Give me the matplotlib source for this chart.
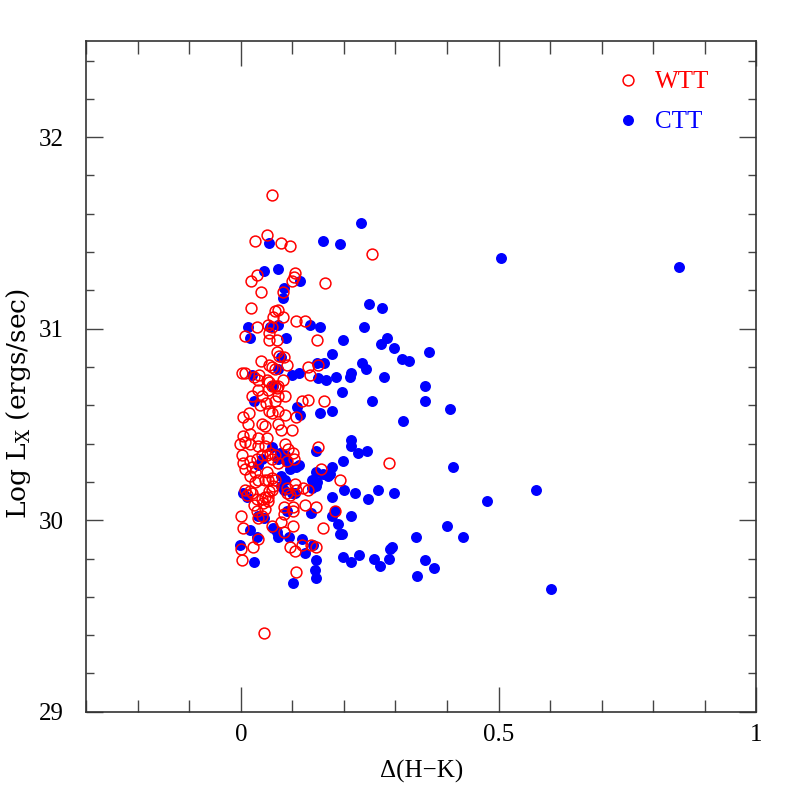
import matplotlib
matplotlib.use("Agg")
import matplotlib.pyplot as plt
from matplotlib.ticker import MultipleLocator
from matplotlib.lines import Line2D

plt.rcParams['font.family'] = ['Liberation Serif', 'DejaVu Serif']
plt.rcParams['mathtext.fontset'] = 'custom'
plt.rcParams['mathtext.rm'] = 'DejaVu Serif'

# WTT (open red circles): Delta(H-K), log Lx
wtt_x = [0.061, 0.050, 0.028, 0.079, 0.096, 0.254, 0.032, 0.020, 0.105, 0.104,
         0.099, 0.163, 0.082, 0.039, 0.020, 0.073, 0.066, 0.081, 0.063, 0.108,
         0.125, 0.031, 0.052, 0.060, 0.008, 0.054, 0.070, 0.054, 0.147, 0.070,
         0.074, 0.039, 0.054, 0.084, 0.090, 0.149, 0.002, 0.008, 0.026, 0.036,
         0.061, 0.066, 0.130, 0.134, 0.034, 0.050, 0.054, 0.060, 0.066, 0.072,
         0.081, 0.052, 0.070, 0.073, 0.086, 0.034, 0.021, 0.041, 0.038, 0.048,
         0.054, 0.060, 0.066, 0.073, 0.086, 0.131, 0.119, 0.108, 0.162, 0.016,
         0.005, 0.015, 0.041, 0.047, 0.073, 0.099, 0.078, 0.149, 0.155, 0.192,
         0.288, 0.146, 0.183, 0.160, 0.146, 0.005, 0.018, 0.034, 0.050, -0.001,
         0.008, 0.018, 0.033, 0.047, 0.086, 0.092, 0.102, 0.002, 0.005, 0.008,
         0.018, 0.021, 0.031, 0.041, 0.050, 0.057, 0.060, 0.066, 0.073, 0.089,
         0.104, 0.027, 0.018, 0.027, 0.034, 0.047, 0.053, 0.060, 0.066, 0.050,
         0.063, 0.060, 0.054, 0.090, 0.105, 0.108, 0.121, 0.130, 0.096, 0.089,
         0.008, 0.018, 0.012, 0.021, 0.031, 0.041, 0.047, 0.053, 0.026, 0.044,
         0.053, 0.083, 0.102, 0.125, 0.001, 0.031, 0.034, 0.047, 0.041, 0.083,
         0.102, 0.005, 0.060, 0.079, 0.083, 0.102, 0.033, 0.001, 0.024, 0.003,
         0.096, 0.105, 0.118, 0.136, 0.108, 0.046]
wtt_y = [31.70, 31.49, 31.46, 31.45, 31.43, 31.39, 31.28, 31.25, 31.29, 31.27,
         31.25, 31.24, 31.19, 31.19, 31.11, 31.10, 31.09, 31.06, 31.06, 31.04,
         31.04, 31.01, 31.02, 31.01, 30.96, 30.94, 30.94, 30.98, 30.94, 30.88,
         30.86, 30.83, 30.81, 30.85, 30.81, 30.81, 30.77, 30.77, 30.75, 30.76,
         30.80, 30.79, 30.80, 30.76, 30.73, 30.73, 30.72, 30.70, 30.70, 30.70,
         30.73, 30.68, 30.69, 30.65, 30.65, 30.68, 30.65, 30.65, 30.60, 30.61,
         30.57, 30.56, 30.62, 30.57, 30.55, 30.63, 30.62, 30.54, 30.62, 30.56,
         30.54, 30.50, 30.50, 30.49, 30.50, 30.47, 30.47, 30.38, 30.27, 30.21,
         30.30, 30.07, 30.05, 29.96, 29.86, 30.44, 30.45, 30.43, 30.43, 30.40,
         30.41, 30.40, 30.39, 30.39, 30.40, 30.37, 30.35, 30.34, 30.30, 30.27,
         30.31, 30.28, 30.32, 30.34, 30.34, 30.35, 30.32, 30.34, 30.30, 30.31,
         30.32, 30.25, 30.23, 30.20, 30.21, 30.21, 30.21, 30.22, 30.21, 30.25,
         30.18, 30.16, 30.15, 30.17, 30.19, 30.16, 30.17, 30.16, 30.13, 30.14,
         30.16, 30.15, 30.13, 30.14, 30.11, 30.11, 30.12, 30.12, 30.08, 30.09,
         30.10, 30.07, 30.07, 30.08, 30.02, 30.05, 30.01, 30.06, 30.02, 30.03,
         30.05, 29.96, 29.97, 29.99, 29.94, 29.97, 29.90, 29.85, 29.86, 29.79,
         29.86, 29.84, 29.87, 29.87, 29.73, 29.41]

# CTT (filled blue circles)
ctt_x = [0.234, 0.193, 0.504, 0.850, 0.249, 0.273, 0.240, 0.198, 0.284, 0.272,
         0.298, 0.366, 0.176, 0.312, 0.326, 0.235, 0.242, 0.213, 0.212, 0.185,
         0.277, 0.357, 0.196, 0.254, 0.357, 0.405, 0.176, 0.314, 0.214, 0.214,
         0.227, 0.244, 0.198, 0.176, 0.412, 0.173, 0.200, 0.222, 0.267, 0.297,
         0.572, 0.247, 0.477, 0.176, 0.183, 0.176, 0.213, 0.189, 0.193, 0.197,
         0.400, 0.431, 0.339, 0.294, 0.289, 0.198, 0.229, 0.213, 0.259, 0.288,
         0.271, 0.357, 0.375, 0.342, 0.601, 0.160, 0.154, 0.161, 0.150, 0.165,
         0.153, 0.145, 0.160, 0.170, 0.146, 0.146, 0.146, 0.144, 0.146, 0.054,
         0.045, 0.072, 0.114, 0.084, 0.081, 0.135, 0.015, 0.073, 0.057, 0.018,
         0.088, 0.078, 0.021, 0.073, 0.099, 0.112, 0.147, 0.063, 0.026, 0.110,
         0.115, 0.060, 0.076, 0.034, 0.041, 0.073, 0.086, 0.090, 0.096, 0.108,
         0.112, 0.079, 0.086, 0.079, 0.083, 0.099, 0.105, 0.138, 0.147, 0.138,
         0.005, 0.012, 0.034, 0.046, 0.089, 0.136, 0.018, 0.063, 0.070, 0.073,
         0.094, 0.031, -0.001, 0.026, 0.118, 0.125, 0.141, 0.102]
ctt_y = [31.55, 31.44, 31.37, 31.32, 31.13, 31.11, 31.01, 30.94, 30.95, 30.92,
         30.90, 30.88, 30.87, 30.84, 30.83, 30.82, 30.79, 30.77, 30.75, 30.75,
         30.75, 30.70, 30.67, 30.62, 30.62, 30.58, 30.57, 30.52, 30.42, 30.39,
         30.35, 30.36, 30.31, 30.28, 30.28, 30.24, 30.16, 30.14, 30.16, 30.14,
         30.16, 30.11, 30.10, 30.12, 30.05, 30.02, 30.02, 29.98, 29.93, 29.93,
         29.97, 29.91, 29.91, 29.86, 29.85, 29.81, 29.82, 29.78, 29.80, 29.80,
         29.76, 29.79, 29.75, 29.71, 29.64, 31.46, 31.01, 30.82, 30.74, 30.73,
         30.56, 30.36, 30.24, 30.23, 30.25, 30.18, 29.79, 29.74, 29.70, 31.45,
         31.30, 31.31, 31.25, 31.21, 31.16, 31.02, 31.01, 31.02, 31.01, 30.95,
         30.95, 30.85, 30.76, 30.79, 30.76, 30.77, 30.82, 30.70, 30.62, 30.59,
         30.55, 30.38, 30.35, 30.29, 30.32, 30.32, 30.34, 30.31, 30.27, 30.28,
         30.29, 30.23, 30.21, 30.18, 30.16, 30.14, 30.14, 30.21, 30.20, 30.17,
         30.14, 30.12, 30.02, 30.01, 30.05, 30.04, 29.95, 29.96, 29.94, 29.91,
         29.91, 29.91, 29.87, 29.78, 29.90, 29.83, 29.87, 29.67]

fig = plt.figure(figsize=(7.97, 7.97), dpi=100)
ax = fig.add_axes([0.108, 0.107, 0.841, 0.841])

ax.plot(ctt_x, ctt_y, 'o', color='blue', markersize=7.9, markeredgewidth=0, linestyle='none')
ax.plot(wtt_x, wtt_y, 'o', markerfacecolor='none', markeredgecolor='red',
        markersize=7.8, markeredgewidth=1.1, linestyle='none')

ax.set_xlim(-0.3, 1.0)
ax.set_ylim(29, 32.5)
ax.xaxis.set_minor_locator(MultipleLocator(0.1))
ax.yaxis.set_minor_locator(MultipleLocator(0.2))
ax.set_xticks([0, 0.5, 1])
ax.set_xticklabels(['0', '0.5', '1'])
ax.set_yticks([29, 30, 31, 32])
ax.set_yticklabels(['29', '30', '31', '32'])

ax.tick_params(axis='x', which='major', direction='in', top=True, bottom=True,
               length=18, width=1, color='#444444', labelsize=18, pad=9)
ax.tick_params(axis='x', which='minor', direction='in', top=True, bottom=True,
               length=9, width=1, color='#444444')
ax.tick_params(axis='y', which='major', direction='in', left=True, right=True,
               length=12, width=1, color='#444444', labelsize=18, pad=16)
ax.tick_params(axis='y', which='minor', direction='in', left=True, right=True,
               length=6, width=1, color='#444444')
for s in ax.spines.values():
    s.set_linewidth(1.2)
    s.set_color('#333333')

ax.set_xlabel('\u0394(H\u2212K)', fontsize=18, labelpad=10)
ax.set_ylabel('Log L$_{\\rm X}$ (ergs/sec)', fontsize=19,
              family=['DejaVu Serif'])
ax.yaxis.set_label_coords(-0.079, 0.46)

handles = [
    Line2D([], [], marker='o', linestyle='none', markerfacecolor='none',
           markeredgecolor='red', markersize=7.8, markeredgewidth=1.1),
    Line2D([], [], marker='o', linestyle='none', color='blue',
           markersize=7.9, markeredgewidth=0),
]
leg = ax.legend(handles, ['WTT', 'CTT'], loc='upper left', bbox_to_anchor=(0.790, 0.956),
                frameon=False, fontsize=18, handletextpad=0.58, labelspacing=0.7,
                handlelength=1.0, borderpad=0, borderaxespad=0)
for t, c in zip(leg.get_texts(), ['red', 'blue']):
    t.set_color(c)

fig.savefig('out.png', dpi=100)
